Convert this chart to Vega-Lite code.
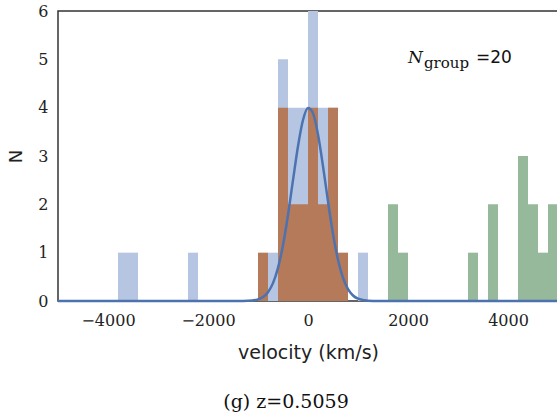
{
  "$schema": "https://vega.github.io/schema/vega-lite/v6.json",
  "width": 500,
  "height": 290,
  "autosize": {"type": "none"},
  "padding": {"left": 58, "top": 11, "right": 0, "bottom": 124},
  "background": "white",
  "config": {
    "view": {"stroke": "#333333", "strokeWidth": 1.5},
    "axis": {"grid": false, "ticks": false, "domain": false, "labelColor": "#222222", "titleColor": "#222222"}
  },
  "title": {
    "text": "(g) z=0.5059",
    "orient": "bottom",
    "anchor": "middle",
    "font": "DejaVu Serif",
    "fontSize": 19,
    "fontWeight": "normal",
    "color": "#111111",
    "dx": -22,
    "offset": 31
  },
  "datasets": {
    "blue": [
      {"v0": -3800, "v1": -3600, "n": 1},
      {"v0": -3600, "v1": -3400, "n": 1},
      {"v0": -2400, "v1": -2200, "n": 1},
      {"v0": -800, "v1": -600, "n": 1},
      {"v0": -600, "v1": -400, "n": 5},
      {"v0": -400, "v1": -200, "n": 4},
      {"v0": -200, "v1": 0, "n": 4},
      {"v0": 0, "v1": 200, "n": 6},
      {"v0": 200, "v1": 400, "n": 4},
      {"v0": 400, "v1": 600, "n": 4},
      {"v0": 1000, "v1": 1200, "n": 1}
    ],
    "brown": [
      {"v0": -1000, "v1": -800, "n": 1},
      {"v0": -600, "v1": -400, "n": 4},
      {"v0": -400, "v1": -200, "n": 2},
      {"v0": -200, "v1": 0, "n": 2},
      {"v0": 0, "v1": 200, "n": 4},
      {"v0": 200, "v1": 400, "n": 2},
      {"v0": 400, "v1": 600, "n": 4},
      {"v0": 600, "v1": 800, "n": 1}
    ],
    "green": [
      {"v0": 1600, "v1": 1800, "n": 2},
      {"v0": 1800, "v1": 2000, "n": 1},
      {"v0": 3200, "v1": 3400, "n": 1},
      {"v0": 3600, "v1": 3800, "n": 2},
      {"v0": 4200, "v1": 4400, "n": 3},
      {"v0": 4400, "v1": 4600, "n": 2},
      {"v0": 4600, "v1": 4800, "n": 1},
      {"v0": 4800, "v1": 5000, "n": 2}
    ],
    "fit": [
      {"v": -5000, "n": 0},
      {"v": -1400, "n": 0.0004},
      {"v": -1200, "n": 0.0043},
      {"v": -1000, "n": 0.034},
      {"v": -900, "n": 0.082},
      {"v": -800, "n": 0.183},
      {"v": -700, "n": 0.37},
      {"v": -600, "n": 0.685},
      {"v": -500, "n": 1.156},
      {"v": -400, "n": 1.78},
      {"v": -300, "n": 2.5},
      {"v": -200, "n": 3.203},
      {"v": -100, "n": 3.744},
      {"v": 0, "n": 3.993},
      {"v": 100, "n": 3.884},
      {"v": 200, "n": 3.447},
      {"v": 300, "n": 2.791},
      {"v": 400, "n": 2.061},
      {"v": 500, "n": 1.389},
      {"v": 600, "n": 0.854},
      {"v": 700, "n": 0.479},
      {"v": 800, "n": 0.245},
      {"v": 900, "n": 0.114},
      {"v": 1000, "n": 0.049},
      {"v": 1200, "n": 0.0067},
      {"v": 1400, "n": 0.0006},
      {"v": 5000, "n": 0}
    ]
  },
  "layer": [
    {
      "data": {"name": "blue"},
      "mark": {"type": "bar", "color": "#b6c6e2", "opacity": 1},
      "encoding": {
        "x": {"field": "v0", "type": "quantitative",
              "scale": {"domain": [-5000, 5000], "nice": false, "zero": false},
              "axis": {"values": [-4000, -2000, 0, 2000, 4000], "format": "d",
                       "title": "velocity (km/s)", "labelFont": "DejaVu Serif", "labelFontSize": 16,
                       "labelPadding": 11, "titleFont": "DejaVu Sans", "titleFontSize": 19,
                       "titleFontWeight": "normal", "titlePadding": 15}},
        "x2": {"field": "v1"},
        "y": {"field": "n", "type": "quantitative",
              "scale": {"domain": [0, 6], "nice": false},
              "axis": {"values": [0, 1, 2, 3, 4, 5, 6], "title": "N", "labelFont": "DejaVu Serif",
                       "labelFontSize": 16, "labelPadding": 10, "titleFont": "DejaVu Sans",
                       "titleFontSize": 18, "titleFontWeight": "normal", "titlePadding": 12}},
        "y2": {"datum": 0}
      }
    },
    {
      "data": {"name": "brown"},
      "mark": {"type": "bar", "color": "#b47a5a", "opacity": 1},
      "encoding": {
        "x": {"field": "v0", "type": "quantitative"},
        "x2": {"field": "v1"},
        "y": {"field": "n", "type": "quantitative"},
        "y2": {"datum": 0}
      }
    },
    {
      "data": {"name": "green"},
      "mark": {"type": "bar", "color": "#96b89b", "opacity": 1},
      "encoding": {
        "x": {"field": "v0", "type": "quantitative"},
        "x2": {"field": "v1"},
        "y": {"field": "n", "type": "quantitative"},
        "y2": {"datum": 0}
      }
    },
    {
      "data": {"name": "fit"},
      "mark": {"type": "line", "color": "#4c72b0", "strokeWidth": 2.5, "interpolate": "monotone"},
      "encoding": {
        "x": {"field": "v", "type": "quantitative"},
        "y": {"field": "n", "type": "quantitative"}
      }
    },
    {
      "data": {"values": [{}]},
      "mark": {"type": "text", "text": "N", "font": "DejaVu Serif", "fontStyle": "italic", "fontSize": 17, "align": "left", "baseline": "alphabetic", "color": "#111111"},
      "encoding": {"x": {"datum": 2000}, "y": {"datum": 4.92}}
    },
    {
      "data": {"values": [{}]},
      "mark": {"type": "text", "text": "group", "font": "DejaVu Serif", "fontSize": 15, "align": "left", "baseline": "alphabetic", "color": "#111111"},
      "encoding": {"x": {"datum": 2320}, "y": {"datum": 4.83}}
    },
    {
      "data": {"values": [{}]},
      "mark": {"type": "text", "text": "=20", "font": "DejaVu Sans", "fontSize": 17, "align": "left", "baseline": "alphabetic", "color": "#111111"},
      "encoding": {"x": {"datum": 3360}, "y": {"datum": 4.92}}
    }
  ]
}
